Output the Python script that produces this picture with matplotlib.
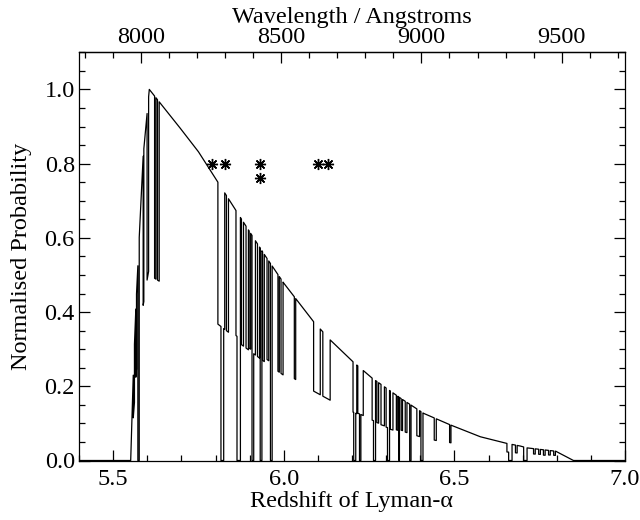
import numpy as np
import matplotlib
matplotlib.use('Agg')
import matplotlib.pyplot as plt
from matplotlib.ticker import MultipleLocator, FixedLocator

plt.rcParams['font.family'] = ['Liberation Serif', 'DejaVu Serif']
FS = 17.5

LYA = 1215.67

# envelope of the probability curve (redshift, normalised probability)
env_z = [5.40, 5.5515, 5.559, 5.567, 5.588, 5.606, 5.697, 5.750, 5.807, 5.875,
         5.941, 6.000, 6.0875, 6.136, 6.203, 6.259, 6.342, 6.410, 6.488, 6.576,
         6.654, 6.693, 6.713, 6.797, 6.849, 7.00]
env_p = [0.0, 0.0, 0.23, 0.42, 0.82, 1.0, 0.895, 0.832, 0.750, 0.652,
         0.558, 0.478, 0.374, 0.325, 0.266, 0.222, 0.168, 0.127, 0.096, 0.064,
         0.046, 0.039, 0.034, 0.025, 0.0, 0.0]

# sky-line dips: start, end, fraction of envelope remaining
dip_lo = [5.5590, 5.5665, 5.5725, 5.5880, 5.5995, 5.6215, 5.6300,
          5.8070, 5.8160, 5.8240, 5.8320, 5.8600, 5.8630, 5.8760, 5.8895, 5.8985,
          5.9070, 5.9120, 5.9230, 5.9310, 5.9380, 5.9510, 5.9610, 5.9830, 5.9920,
          6.0310,
          6.0875, 6.1145,
          6.2030, 6.2050, 6.2110, 6.2170, 6.2220, 6.2260, 6.2590, 6.2630, 6.2730,
          6.2850, 6.3000, 6.3040, 6.3120, 6.3300, 6.3370, 6.3440, 6.3560, 6.3690,
          6.3900, 6.4020, 6.4410, 6.4860,
          6.6540, 6.6590, 6.6790, 6.7030, 6.7320, 6.7470, 6.7610, 6.7760, 6.7910]
dip_hi = [5.5625, 5.5685, 5.5765, 5.5900, 5.6040, 5.6255, 5.6350,
          5.8160, 5.8240, 5.8270, 5.8380, 5.8630, 5.8730, 5.8820, 5.8965, 5.9030,
          5.9120, 5.9170, 5.9290, 5.9360, 5.9430, 5.9560, 5.9660, 5.9870, 5.9980,
          6.0350,
          6.1070, 6.1360,
          6.2050, 6.2110, 6.2140, 6.2220, 6.2260, 6.2330, 6.2630, 6.2690, 6.2780,
          6.2950, 6.3040, 6.3100, 6.3200, 6.3340, 6.3390, 6.3480, 6.3610, 6.3730,
          6.3980, 6.4080, 6.4470, 6.4900,
          6.6590, 6.6690, 6.6840, 6.7130, 6.7370, 6.7520, 6.7660, 6.7810, 6.7960]
dip_frac = [0.50, 0.55, 0.00, 0.51, 0.52, 0.50, 0.50,
            0.49, 0.00, 0.49, 0.49, 0.50, 0.00, 0.48, 0.48, 0.49,
            0.00, 0.48, 0.48, 0.00, 0.48, 0.50, 0.00, 0.48, 0.48,
            0.50,
            0.50, 0.50,
            0.49, 0.00, 0.49, 0.50, 0.00, 0.50, 0.49, 0.00, 0.48,
            0.47, 0.46, 0.00, 0.45, 0.47, 0.00, 0.49, 0.48, 0.00,
            0.48, 0.00, 0.48, 0.50,
            0.50, 0.00, 0.50, 0.00, 0.55, 0.55, 0.50, 0.55, 0.55]

# asterisk markers
star_z = [5.790, 5.829, 5.930, 5.930, 6.099, 6.130]
star_p = [0.80, 0.80, 0.80, 0.76, 0.80, 0.80]

x_ticks = [5.5, 6.0, 6.5, 7.0]
y_ticks = [0.0, 0.2, 0.4, 0.6, 0.8, 1.0]
top_ticks = [8000, 8500, 9000, 9500]


def factor(z, side):
    f = 1.0
    for lo, hi, fr in zip(dip_lo, dip_hi, dip_frac):
        if side == 'left' and lo < z <= hi:
            f *= fr
        if side == 'right' and lo <= z < hi:
            f *= fr
    return f


keys = sorted(set(env_z) | set(dip_lo) | set(dip_hi))
cz, cp = [], []
for z in keys:
    e = float(np.interp(z, env_z, env_p))
    l = e * factor(z, 'left')
    r = e * factor(z, 'right')
    cz.append(z); cp.append(l)
    if r != l:
        cz.append(z); cp.append(r)

fig = plt.figure(figsize=(6.4, 5.2), dpi=100)
ax = fig.add_axes([79/640, 1 - 460.5/520, 546/640, (460.5 - 52.3)/520])
ax.plot(cz, cp, color='black', lw=0.9)
ax.plot(star_z, star_p, linestyle='none', marker=(8, 2, 0), ms=8,
        mec='black', mew=1.0, color='black')

ax.set_xlim(5.4, 7.0)
ax.set_ylim(0.0, 1.1)
ax.set_xticks(x_ticks)
ax.set_xticklabels([f'{v:.1f}' for v in x_ticks])
ax.set_yticks(y_ticks)
ax.set_yticklabels([f'{v:.1f}' for v in y_ticks])
ax.xaxis.set_minor_locator(MultipleLocator(0.1))
ax.yaxis.set_minor_locator(MultipleLocator(0.05))
ax.tick_params(which='both', direction='in', top=False, right=True,
               width=0.9, labelsize=FS)
ax.tick_params(which='major', length=8)
ax.tick_params(which='minor', length=4)
ax.tick_params(axis='x', which='major', pad=6)
ax.tick_params(axis='y', which='major', pad=3)
ax.set_xlabel('Redshift of Lyman-α', fontsize=FS, labelpad=1)
ax.set_ylabel('Normalised Probability', fontsize=FS, labelpad=9)
for s in ax.spines.values():
    s.set_linewidth(0.9)

sec = ax.secondary_xaxis('top', functions=(lambda z: LYA * (1 + z),
                                            lambda l: l / LYA - 1))
sec.xaxis.set_major_locator(FixedLocator(top_ticks))
sec.xaxis.set_minor_locator(MultipleLocator(100))
sec.tick_params(which='both', direction='in', width=0.9, labelsize=FS)
sec.tick_params(which='major', length=8, pad=3)
sec.tick_params(which='minor', length=4)
sec.set_xlabel('Wavelength / Angstroms', fontsize=FS, labelpad=3)
sec.spines['top'].set_linewidth(0.9)

fig.savefig('out.png', dpi=100)
